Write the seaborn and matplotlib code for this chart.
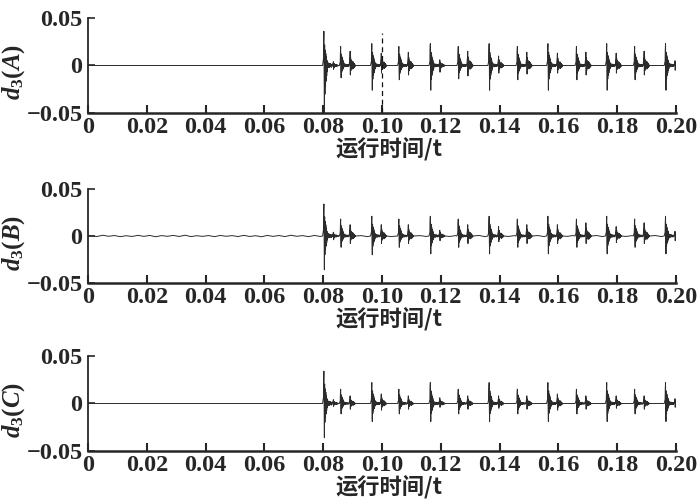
import numpy as np
import pandas as pd
import matplotlib
matplotlib.use('Agg')
import matplotlib.pyplot as plt
import seaborn as sns

# burst start times (s)
burst_t = [0.0801, 0.0858, 0.0964, 0.1056, 0.1163, 0.1258, 0.1363,
           0.1459, 0.1563, 0.1660, 0.1763, 0.1858, 0.1963]

# phase A: main spike up / down, secondary spike up / down
A_up = [0.036, 0.020, 0.023, 0.020, 0.023, 0.020, 0.023, 0.020, 0.023, 0.020, 0.023, 0.020, 0.023]
A_dn = [-0.055, -0.013, -0.026, -0.015, -0.026, -0.014, -0.026, -0.015, -0.026, -0.015, -0.026, -0.015, -0.026]
A_sec_up = [0.004, 0.015, 0.013, 0.014, 0.006, 0.015, 0.010, 0.014, 0.013, 0.014, 0.013, 0.015, 0.005]
A_sec_dn = [-0.004, -0.010, -0.008, -0.010, -0.007, -0.011, -0.008, -0.009, -0.008, -0.010, -0.008, -0.010, -0.005]

# phase B
B_up = [0.034, 0.018, 0.021, 0.018, 0.021, 0.018, 0.021, 0.018, 0.021, 0.018, 0.021, 0.018, 0.021]
B_dn = [-0.036, -0.012, -0.020, -0.012, -0.019, -0.012, -0.019, -0.012, -0.019, -0.012, -0.019, -0.012, -0.019]
B_sec_up = [0.004, 0.012, 0.012, 0.012, 0.006, 0.012, 0.010, 0.012, 0.012, 0.014, 0.010, 0.014, 0.005]
B_sec_dn = [-0.004, -0.008, -0.008, -0.008, -0.005, -0.008, -0.006, -0.008, -0.008, -0.008, -0.007, -0.008, -0.005]
# low level noise on phase B, one value every 0.002 s
B_noise = [0.0004, -0.0006, 0.0008, -0.0003, 0.0005, -0.0007, 0.0003, -0.0005, 0.0007, -0.0004,
           0.0006, -0.0008, 0.0004, -0.0003, 0.0006, -0.0005, 0.0008, -0.0006, 0.0003, -0.0004,
           0.0005, -0.0007, 0.0006, -0.0003, 0.0004, -0.0006, 0.0007, -0.0005, 0.0003, -0.0008,
           0.0006, -0.0004, 0.0005, -0.0006, 0.0008, -0.0003, 0.0004, -0.0007, 0.0006, -0.0005,
           0.0005, -0.0006, 0.0007, -0.0004, 0.0006, -0.0005, 0.0004, -0.0007, 0.0006, -0.0004,
           0.0005, -0.0006, 0.0007, -0.0003, 0.0005, -0.0006, 0.0004, -0.0005, 0.0006, -0.0004,
           0.0007, -0.0005, 0.0004, -0.0006, 0.0005, -0.0004, 0.0006, -0.0007, 0.0005, -0.0004,
           0.0006, -0.0005, 0.0004, -0.0006, 0.0007, -0.0004, 0.0005, -0.0006, 0.0004, -0.0005,
           0.0006, -0.0004, 0.0005, -0.0007, 0.0006, -0.0004, 0.0005, -0.0006, 0.0004, -0.0005,
           0.0006, -0.0005, 0.0004, -0.0006, 0.0007, -0.0004, 0.0005, -0.0006, 0.0004, 0.0]

# phase C
C_up = [0.034, 0.015, 0.022, 0.015, 0.022, 0.015, 0.022, 0.015, 0.022, 0.015, 0.022, 0.015, 0.022]
C_dn = [-0.036, -0.011, -0.019, -0.011, -0.019, -0.011, -0.019, -0.011, -0.019, -0.011, -0.019, -0.011, -0.019]
C_sec_up = [0.004, 0.008, 0.010, 0.008, 0.006, 0.008, 0.008, 0.008, 0.010, 0.008, 0.008, 0.008, 0.005]
C_sec_dn = [-0.003, -0.006, -0.007, -0.006, -0.004, -0.006, -0.005, -0.006, -0.007, -0.006, -0.005, -0.006, -0.004]

# shape of one burst (relative to the spike sizes above)
main_off = [0.0, 0.00006, 0.00014, 0.00022, 0.0003, 0.0004, 0.0005, 0.0006, 0.0007,
            0.0008, 0.0009, 0.001, 0.0011, 0.0012, 0.0013, 0.0014]
main_shape = [0.2, 0.7, 1.0, -0.3, -1.0, 0.6, -0.55, 0.45, -0.4, 0.35, -0.3, 0.25, -0.2, 0.15, -0.12, 0.08]
chat_shape = [0.12, -0.10, 0.15, -0.12, 0.08, -0.10, 0.12, -0.06, 0.10, -0.08, 0.06, -0.10, 0.08, -0.05, 0.06]
sec_off = [0.0, 0.00006, 0.00014, 0.00022, 0.00032, 0.00042, 0.00052, 0.00062, 0.00072, 0.00082]
sec_shape = [0.6, 1.0, -1.0, 0.6, -0.55, 0.4, -0.35, 0.25, -0.2, 0.12]
tail_shape = [0.3, -0.25, 0.25, -0.2, 0.18, -0.15, 0.12, -0.1, 0.06, -0.05, 0.0]

marker_t = 0.10   # dashed line in panel A

xticks = [0, 0.02, 0.04, 0.06, 0.08, 0.10, 0.12, 0.14, 0.16, 0.18, 0.20]
xtick_labels = ['0', '0.02', '0.04', '0.06', '0.08', '0.10', '0.12', '0.14', '0.16', '0.18', '0.20']
yticks = [-0.05, 0, 0.05]
ytick_labels = ['\u22120.05', '0', '0.05']
ylabels = [r'$d_3(A)$', r'$d_3(B)$', r'$d_3(C)$']
xlabel = '运行时间/t'


def scale(c, up, dn):
    return c * up if c >= 0 else -c * dn


def build(up, dn, s_up, s_dn, noise=None):
    ts, vs = [], []
    windows = []
    for t0, u, d, su, sd in zip(burst_t, up, dn, s_up, s_dn):
        ts.append(t0 - 0.0003); vs.append(0.0)
        for o, c in zip(main_off, main_shape):
            ts.append(t0 + o); vs.append(scale(c, u, d))
        for k, c in enumerate(chat_shape):
            ts.append(t0 + 0.0015 + k * 0.00011); vs.append(c * u * 0.5)
        ts0 = t0 + 0.0033
        for o, c in zip(sec_off, sec_shape):
            ts.append(ts0 + o); vs.append(scale(c, su, sd))
        for k, c in enumerate(tail_shape):
            ts.append(ts0 + 0.0009 + k * 0.0001); vs.append(c * su)
        windows.append((t0 - 0.0003, ts0 + 0.0009 + len(tail_shape) * 0.0001))
    if noise is not None:
        for k, v in enumerate(noise):
            t = 0.001 + k * 0.002
            if not any(a - 0.0004 <= t <= b + 0.0004 for a, b in windows):
                ts.append(t); vs.append(v)
    ts += [0.0, 0.2]; vs += [0.0, 0.0]
    df = pd.DataFrame({'t': ts, 'v': vs}).sort_values('t')
    return df


sns.set_style('ticks')
plt.rcParams['font.family'] = ['Liberation Serif', 'DejaVu Sans']
plt.rcParams['font.weight'] = 'bold'
plt.rcParams['mathtext.fontset'] = 'custom'
plt.rcParams['mathtext.it'] = 'Liberation Serif:italic:bold'
plt.rcParams['mathtext.rm'] = 'Liberation Serif:bold'
plt.rcParams['mathtext.bf'] = 'Liberation Serif:bold'

fig = plt.figure(figsize=(7, 5.04), dpi=100)
boxes = [[0.1257, 0.7758, 0.84, 0.1885],
         [0.1257, 0.4385, 0.84, 0.1865],
         [0.1257, 0.1052, 0.84, 0.1885]]

data = [build(A_up, A_dn, A_sec_up, A_sec_dn),
        build(B_up, B_dn, B_sec_up, B_sec_dn, B_noise),
        build(C_up, C_dn, C_sec_up, C_sec_dn)]

for i, (box, df) in enumerate(zip(boxes, data)):
    ax = fig.add_axes(box)
    sns.lineplot(data=df, x='t', y='v', ax=ax, color='#2b2b2b', lw=0.7,
                 estimator=None, sort=False)
    if i == 0:
        ax.vlines(marker_t, -0.05, 0.034, colors='#111111', lw=0.9, linestyles=(0, (4, 3)))
    ax.set_xlim(0, 0.2)
    ax.set_ylim(-0.05, 0.05)
    ax.set_xticks(xticks)
    ax.set_xticklabels(xtick_labels)
    ax.set_yticks(yticks)
    ax.set_yticklabels(ytick_labels)
    ax.tick_params(axis='x', direction='in', length=6, width=1.5, pad=3, labelsize=17.5)
    ax.tick_params(axis='y', direction='in', length=5, width=1.2, pad=4, labelsize=17.5)
    for lab in ax.get_xticklabels() + ax.get_yticklabels():
        lab.set_fontweight('bold')
    sns.despine(ax=ax)
    ax.spines['left'].set_linewidth(1.3)
    ax.spines['bottom'].set_linewidth(1.8)
    ax.set_ylabel(ylabels[i], fontsize=18)
    ax.yaxis.set_label_coords(-0.104, 0.43)
    ax.set_xlabel(xlabel, fontsize=16, fontweight='bold',
                  family=['Noto Sans CJK SC', 'DejaVu Sans'])
    ax.xaxis.set_label_coords(0.512, -0.39)
    ax.xaxis.label.set_va('center')

fig.savefig('out.png', dpi=100)
